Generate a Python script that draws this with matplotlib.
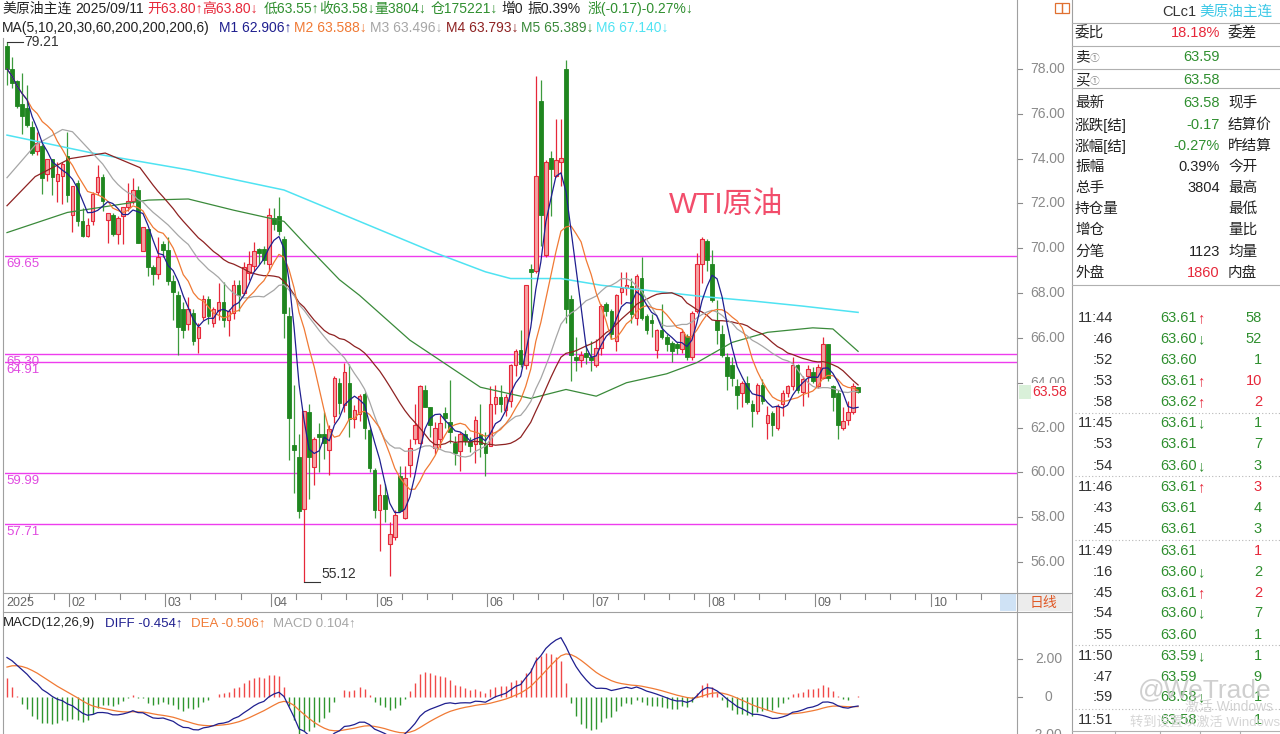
import numpy as np
import pandas as pd
import matplotlib
matplotlib.use('Agg')
import matplotlib.pyplot as plt
from matplotlib.lines import Line2D
from matplotlib.patches import Rectangle

# ---------------- data ----------------
opens = [
    79.02, 78.00, 77.45, 76.43, 76.28, 75.42, 74.33, 74.56, 73.30, 74.00, 73.00, 73.23, 74.10,
    71.50, 72.90, 71.20, 70.57, 71.20, 72.52, 73.20, 71.27, 71.50, 70.64, 71.43, 71.82, 72.13, 72.60, 69.86, 70.88, 69.16, 68.85, 70.17,
    69.94, 68.53, 67.90, 67.30, 66.60, 67.10, 66.00, 66.95, 67.75, 66.65, 67.20, 67.60, 66.80, 67.10, 68.37, 68.00, 68.90, 69.20, 69.95, 69.95, 69.30,
    71.35, 71.45, 70.40, 66.97, 61.20, 60.70, 58.36, 62.70, 60.24, 61.70, 61.70, 61.00, 62.50, 64.00, 63.00, 64.00, 62.40, 62.60, 63.50, 61.90, 60.10,
    58.30, 58.99, 56.80, 57.11, 59.85, 57.97, 60.32, 61.49, 61.33, 63.68, 62.90, 61.10, 61.49, 62.66, 62.27, 61.33, 60.94, 61.72, 61.41, 61.25, 61.72, 61.33,
    61.17, 63.05, 63.37, 62.80, 63.20, 64.78, 65.48, 64.78, 69.08, 69.00, 76.59, 69.71, 74.01, 73.23, 73.85, 78.00, 67.75, 65.17, 65.01, 65.33, 65.17,
    64.78, 65.56, 67.51, 67.20, 65.87, 68.06, 68.22, 68.30, 66.89, 68.69, 66.97, 66.81, 65.48, 66.34, 66.03, 65.79, 65.71, 65.52, 66.10, 65.17, 67.20, 69.31, 70.33,
    69.31, 66.81, 66.18, 65.17, 64.78, 63.84, 63.52, 63.99, 63.05, 62.74, 63.92, 62.19, 62.66, 61.96, 63.05, 63.52, 63.84, 64.78, 63.60, 64.30, 64.46,
    63.84, 64.23, 65.71, 63.84, 63.52, 61.96, 62.35, 62.70, 63.80]
highs = [
    79.21, 78.55, 77.50, 77.84, 77.30, 75.70, 75.18, 74.64, 74.00, 74.00, 73.85, 73.85, 75.18,
    72.76, 73.05, 71.80, 71.35, 72.50, 73.70, 73.30, 71.58, 71.58, 71.43, 71.82, 72.90, 73.15, 72.76, 70.96, 70.88, 69.24, 70.49, 70.33,
    70.49, 68.80, 68.10, 67.60, 67.83, 67.30, 66.65, 67.90, 67.85, 67.40, 68.45, 68.50, 67.30, 68.60, 68.60, 69.40, 69.90, 70.30, 70.00, 70.10, 71.80,
    71.80, 72.29, 70.55, 67.40, 63.90, 61.70, 62.74, 63.05, 61.60, 62.20, 62.70, 62.10, 64.30, 64.20, 64.90, 64.85, 63.00, 63.50, 63.60, 62.00, 60.20,
    59.46, 59.46, 57.80, 58.30, 60.30, 60.30, 61.50, 63.05, 63.90, 63.90, 62.90, 62.27, 62.58, 62.90, 64.10, 61.64, 61.80, 61.90, 61.60, 62.50, 63.05, 61.80,
    63.84, 63.90, 63.90, 63.50, 64.85, 65.50, 66.34, 68.38, 69.31, 77.69, 77.53, 73.93, 74.32, 75.76, 75.76, 78.39, 67.90, 66.03, 65.40, 65.71, 65.87,
    65.95, 67.51, 67.60, 67.28, 67.98, 68.92, 68.92, 68.69, 68.85, 69.63, 67.05, 67.05, 66.42, 67.51, 66.18, 65.87, 65.80, 66.42, 66.18, 67.20, 69.80, 70.49, 70.41,
    69.94, 67.67, 66.58, 65.33, 65.17, 64.15, 64.07, 64.31, 63.21, 63.99, 64.15, 62.97, 62.74, 63.05, 63.68, 63.92, 65.17, 64.85, 64.31, 64.78, 64.70,
    64.85, 66.03, 65.71, 63.92, 63.68, 62.90, 63.20, 64.00, 63.80]
lows = [
    77.30, 77.14, 76.28, 75.10, 75.40, 74.17, 74.17, 72.44, 73.00, 72.37, 72.05, 71.98, 72.05,
    70.72, 71.00, 70.49, 70.49, 71.04, 72.37, 71.66, 70.25, 70.57, 70.17, 70.17, 71.66, 71.97, 70.25, 69.86, 68.77, 68.38, 68.61, 69.63,
    68.38, 66.81, 65.25, 66.00, 66.34, 65.70, 65.33, 66.80, 66.60, 66.50, 66.80, 66.50, 66.10, 66.85, 67.20, 67.90, 68.60, 69.00, 69.30, 69.30, 69.00,
    70.80, 70.60, 66.00, 60.55, 59.10, 57.97, 55.12, 58.83, 59.45, 60.00, 60.60, 59.90, 62.20, 62.60, 62.70, 61.56, 62.00, 62.30, 61.50, 60.00, 57.97,
    56.48, 57.80, 55.39, 57.00, 58.28, 57.90, 59.80, 61.25, 61.25, 62.90, 61.60, 60.80, 61.10, 62.00, 61.33, 60.32, 60.08, 61.20, 60.90, 60.40, 60.70, 59.85,
    61.17, 62.60, 62.70, 62.50, 62.90, 64.30, 64.70, 64.60, 66.81, 68.90, 70.10, 69.60, 71.43, 73.20, 72.76, 66.65, 64.07, 64.54, 64.70, 64.85, 64.54,
    64.70, 65.25, 66.97, 65.95, 65.40, 67.51, 67.90, 66.65, 66.58, 66.81, 66.18, 66.03, 65.09, 65.95, 65.40, 64.93, 65.30, 65.33, 65.02, 65.02, 67.13, 68.45, 69.00,
    67.59, 65.71, 65.17, 63.68, 63.84, 62.82, 62.90, 63.05, 62.03, 62.60, 63.05, 61.49, 61.64, 61.90, 62.50, 63.37, 63.68, 63.52, 62.97, 63.37, 64.00,
    63.76, 64.15, 64.07, 62.74, 61.49, 61.90, 62.10, 62.60, 63.55]
closes = [
    78.00, 77.37, 76.36, 75.89, 75.50, 74.24, 74.72, 73.15, 74.00, 73.20, 73.30, 73.77, 72.37,
    72.76, 71.20, 70.57, 71.04, 72.44, 73.20, 72.13, 71.58, 70.64, 71.35, 71.82, 72.13, 72.60, 70.25, 70.96, 69.16, 68.85, 69.63, 69.94,
    68.53, 68.06, 66.50, 66.35, 67.30, 65.87, 66.50, 67.75, 66.97, 67.27, 67.60, 66.80, 67.20, 68.37, 67.90, 69.16, 69.30, 69.90, 69.80, 69.48, 71.50,
    71.10, 70.75, 67.10, 62.43, 61.00, 58.28, 62.74, 60.70, 61.50, 61.60, 61.30, 61.95, 64.20, 63.10, 64.50, 62.40, 62.80, 63.40, 62.00, 60.20, 58.30,
    59.00, 58.36, 57.27, 58.12, 58.28, 59.77, 61.10, 62.10, 63.84, 62.90, 62.10, 61.96, 62.20, 62.43, 61.80, 60.86, 61.72, 61.41, 61.17, 62.35, 61.25, 60.86,
    63.05, 63.37, 63.05, 63.37, 64.78, 65.40, 64.85, 68.38, 68.95, 73.23, 71.50, 73.85, 73.54, 73.93, 74.01, 67.28, 65.25, 65.01, 65.25, 65.17, 65.01,
    65.56, 67.44, 67.20, 66.18, 67.90, 68.22, 68.38, 67.05, 68.77, 66.89, 66.34, 66.65, 66.34, 66.03, 65.71, 65.40, 65.56, 66.25, 65.17, 67.13, 69.30, 70.41, 69.47,
    67.67, 66.34, 65.25, 64.31, 64.23, 63.45, 63.99, 63.13, 62.74, 63.92, 63.20, 62.58, 62.10, 62.97, 63.52, 63.84, 64.78, 63.68, 64.15, 64.60, 64.07,
    64.70, 65.71, 64.23, 63.37, 62.10, 62.30, 62.70, 63.84, 63.58]

month_pos = [0, 13, 32, 53, 74, 96, 117, 140, 161, 184]
month_labels = ['2025', '02', '03', '04', '05', '06', '07', '08', '09', '10']

levels = [69.65, 65.30, 64.91, 59.99, 57.71]

# moving-average values (lines whose window reaches before the visible data)
m3_early_x = [0, 5.6, 11, 13, 18]
m3_early_y = [73.15, 74.6, 75.3, 75.2, 74.0]
m4_early_x = [0, 5.6, 12.5, 19.5, 26.4]
m4_early_y = [71.9, 73.2, 74.0, 74.25, 73.6]
m5_x = [0, 12, 28, 36, 45, 55, 60, 66, 70, 80, 94, 104, 111, 117, 123, 131, 137, 144, 151, 160, 164, 169]
m5_y = [70.7, 71.6, 72.15, 72.2, 71.7, 71.2, 70.0, 68.6, 67.9, 65.9, 63.8, 63.3, 63.7, 63.4, 64.0, 64.4, 64.9, 65.8, 66.25, 66.45, 66.4, 65.4]
m6_x = [0, 18, 36, 55, 70, 85, 95, 100, 110, 118, 128, 138, 148, 158, 169]
m6_y = [75.05, 74.2, 73.5, 72.6, 71.2, 69.8, 68.95, 68.65, 68.65, 68.35, 68.1, 67.85, 67.65, 67.42, 67.14]

# MACD starting state (from the chart's first visible values)
ema12_seed, ema26_seed, dea_seed = 77.5, 75.3, 1.45

# ---------------- styling ----------------
W, H = 1280, 734
plt.rcParams['font.family'] = ['Liberation Sans', 'Noto Sans CJK SC', 'DejaVu Sans']
fig = plt.figure(figsize=(W / 100, H / 100), dpi=100)
fig.patch.set_facecolor('white')
REN = fig.canvas.get_renderer()

RED = '#e6283a'
RED_FACE = '#f4a3a3'
GRN = '#2f8f2f'
GRN_BODY = '#1f861f'
K = '#222222'
NAVY = '#1f1f8f'
ORANGE = '#f07a35'
GRAYL = '#a6a6a6'
DRED = '#8e2222'
MGREEN = '#3a8a3a'
CYAN = '#4fe3f2'
MAG = '#ee3cee'
AXG = '#8a8a8a'


def fx(x):
    return x / W


def fy(y):
    return 1 - y / H


def txt(x, y, s, c=K, size=10, ha='left', va='center', **kw):
    return fig.text(fx(x), fy(y), s, color=c, fontsize=size, ha=ha, va=va, **kw)


def seq(y, segs, x=2, size=10):
    for s, col, gap in segs:
        t = txt(x, y, s, c=col, size=size)
        x = t.get_window_extent(REN).x1 + gap


def hline(y, x0, x1, c='#a0a0a0', lw=0.8, ls='-'):
    fig.add_artist(Line2D([fx(x0), fx(x1)], [fy(y), fy(y)], color=c, lw=lw, ls=ls))


def vline(x, y0, y1, c='#a0a0a0', lw=0.8):
    fig.add_artist(Line2D([fx(x), fx(x)], [fy(y0), fy(y1)], color=c, lw=lw))


def rect(x0, y0, x1, y1, fc='none', ec='none', lw=0.8):
    fig.add_artist(Rectangle((fx(x0), fy(y1)), (x1 - x0) / W, (y1 - y0) / H,
                             transform=fig.transFigure, facecolor=fc, edgecolor=ec, lw=lw))


X0, X1 = 5, 1017
STEP = 5.036
XLIM = ((X0 - 7) / STEP, (X1 - 7) / STEP)

o = np.array(opens); h = np.array(highs); l = np.array(lows); c = np.array(closes)
n = len(c)
idx = np.arange(n)
up = c >= o

# ---------------- main price panel ----------------
ax = fig.add_axes([fx(X0), fy(593), (X1 - X0) / W, 593 / H])
ax.set_xlim(*XLIM)
ax.set_ylim(78 - (593 - 69) / 22.41, 78 + 69 / 22.41)
ax.axis('off')

for lv in levels:
    ax.axhline(lv, color=MAG, lw=1.0, zorder=1)
    ax.annotate(f'{lv:.2f}', xy=(XLIM[0], lv), xytext=(1, -1.5), textcoords='offset points',
                color='#e04ae0', fontsize=9.5, va='top', ha='left')

ax.vlines(idx[up], l[up], h[up], color=RED, lw=0.9, zorder=2)
ax.vlines(idx[~up], l[~up], h[~up], color='#3d9a3d', lw=0.9, zorder=2)
body = np.maximum(np.abs(c - o), 0.05)
bot = np.minimum(o, c)
ax.bar(idx[up], body[up], bottom=bot[up], width=0.72, color=RED_FACE, edgecolor=RED, lw=0.8, zorder=2)
ax.bar(idx[~up], body[~up], bottom=bot[~up], width=0.72, color=GRN_BODY, edgecolor=GRN_BODY, lw=0.6, zorder=2)

cs = pd.Series(c)
m1 = cs.rolling(5, min_periods=1).mean()
m2 = cs.rolling(10, min_periods=1).mean()
m3 = cs.rolling(20).mean()
m4 = cs.rolling(30).mean()
ax.plot(m6_x, m6_y, color=CYAN, lw=1.1, zorder=3)
ax.plot(m5_x, m5_y, color=MGREEN, lw=0.9, zorder=3)
ax.plot(m4_early_x + list(idx[29:]), m4_early_y + list(m4[29:]), color=DRED, lw=0.9, zorder=3)
ax.plot(m3_early_x + list(idx[19:]), m3_early_y + list(m3[19:]), color=GRAYL, lw=0.9, zorder=3)
ax.plot(idx, m2, color=ORANGE, lw=0.9, zorder=3)
ax.plot(idx, m1, color=NAVY, lw=0.9, zorder=3)

imax = int(np.argmax(h)); imin = int(np.argmin(l))
ax.plot([imax, imax + 3.2], [h[imax], h[imax]], color='#333333', lw=0.8)
ax.text(imax + 3.5, h[imax], f'{h[imax]:.2f}', color='#333333', fontsize=10, va='center')
ax.plot([imin, imin + 3.2], [l[imin], l[imin]], color='#333333', lw=0.8)
ax.text(imin + 3.5, l[imin] + 0.05, f'{l[imin]:.2f}', color='#333333', fontsize=10, va='bottom')

ax.text(142.8, 71.95, 'WTI原油', color='#f24d6b', fontsize=21.5, ha='center', va='center')

# price axis labels
ytr = ax.get_yaxis_transform()
for p in range(56, 80, 2):
    ax.text(1.0128, p, f'{p:.2f}', transform=ytr, color=AXG, fontsize=10, va='center', clip_on=False)
    ax.plot([1.0, 1.005], [p, p], transform=ytr, color=AXG, lw=0.8, clip_on=False)
ax.add_patch(Rectangle((1.002, c[-1] - 0.3), 0.013, 0.6, transform=ytr, facecolor='#d9f0d9',
                       edgecolor='none', clip_on=False))
ax.text(1.0155, c[-1], f'{c[-1]:.2f}', transform=ytr, color=RED, fontsize=10, va='center', clip_on=False,
        bbox=dict(facecolor='white', edgecolor='none', pad=1.2))

# ---------------- time strip ----------------
axt = fig.add_axes([fx(X0), fy(611), (X1 - X0) / W, 18 / H])
axt.set_xlim(*XLIM); axt.set_ylim(0, 1); axt.axis('off')
for k, (mp, lab) in enumerate(zip(month_pos, month_labels)):
    if k > 0:
        axt.plot([mp - 0.6, mp - 0.6], [0.3, 1.0], color=AXG, lw=0.8)
    axt.text(mp - 0.1, 0.45, lab, color='#666666', fontsize=9, va='center', ha='left')
    nxt = month_pos[k + 1] if k + 1 < len(month_pos) else mp + 22
    for t in range(mp + 5, nxt - 2, 5):
        if t > 2:
            axt.plot([t - 0.6, t - 0.6], [0.65, 1.0], color=AXG, lw=0.8)

# ---------------- MACD panel ----------------
e12, e26, d = ema12_seed, ema26_seed, dea_seed
diff = np.empty(n); dea = np.empty(n)
for i, cl in enumerate(c):
    e12 += (cl - e12) * 2 / 13
    e26 += (cl - e26) * 2 / 27
    diff[i] = e12 - e26
    d += (diff[i] - d) * 2 / 10
    dea[i] = d
hist = 2 * (diff - dea)

axm = fig.add_axes([fx(X0), fy(734), (X1 - X0) / W, (734 - 612) / H])
axm.set_xlim(*XLIM)
axm.set_ylim(-(734 - 697) / 19, (697 - 612) / 19)
axm.axis('off')
axm.vlines(idx, 0, hist, colors=np.where(hist >= 0, '#f04848', '#2e962e'), lw=1.0)
axm.plot(idx, dea, color=ORANGE, lw=0.9)
axm.plot(idx, diff, color=NAVY, lw=0.9)
mtr = axm.get_yaxis_transform()
for val, lab, xo in [(2, '2.00', 1.018), (0, '0', 1.027), (-2, '-2.00', 1.013)]:
    axm.text(xo, val, lab, transform=mtr, color=AXG, fontsize=10, va='center', clip_on=False)
    axm.plot([1.0, 1.005], [val, val], transform=mtr, color=AXG, lw=0.8, clip_on=False)

# ---------------- frame lines ----------------
vline(3, 38, 734)
vline(1017, 0, 734)
vline(1072, 0, 734)
hline(593, 3, 1072)
hline(611.5, 3, 1072)
rect(1000, 594, 1016, 611, fc='#cfe2f5')
rect(1018, 594, 1071, 611, fc='#ececec')
txt(1030, 603, '日线', c='#e05a28', size=10)
rect(1055, 3, 1062, 13, ec='#e07030', lw=0.9)
rect(1062, 3, 1069, 13, ec='#e07030', lw=0.9)

# ---------------- header texts ----------------
seq(9, [('美原油主连', K, 4), ('2025/09/11', K, 3), ('开63.80↑', RED, 0), ('高63.80↓', RED, 5),
        ('低63.55↑', GRN, 0), ('收63.58↓', GRN, 0), ('量3804↓', GRN, 4), ('仓175221↓', GRN, 4),
        ('增0', K, 4), ('振0.39%', K, 7), ('涨(-0.17)-0.27%↓', GRN, 0)], size=10)
seq(28, [('MA(5,10,20,30,60,200,200,200,6)', K, 9), ('M1 62.906↑', NAVY, 3), ('M2 63.588↓', ORANGE, 3),
         ('M3 63.496↓', GRAYL, 3), ('M4 63.793↓', DRED, 3), ('M5 65.389↓', MGREEN, 3),
         ('M6 67.140↓', CYAN, 0)], size=10)
seq(623, [('MACD(12,26,9)', K, 10), ('DIFF -0.454↑', NAVY, 8), ('DEA -0.506↑', ORANGE, 8),
          ('MACD 0.104↑', GRAYL, 0)], x=3, size=9.5)

# ---------------- right quote panel ----------------
RS = 10.5
txt(1162, 12, 'CLc1', c='#333333', size=RS)
txt(1199, 12, '美原油主连', c='#3cc8e6', size=RS)
for yy in [23, 46, 69, 88, 285]:
    hline(yy, 1072, 1280, c='#b0b0b0')
rows = [(33, '委比', '18.18%', RED, '委差'), (57, '卖', '63.59', GRN, ''), (80, '买', '63.58', GRN, ''),
        (103, '最新', '63.58', GRN, '现手'), (125, '涨跌[结]', '-0.17', GRN, '结算价'),
        (146, '涨幅[结]', '-0.27%', GRN, '昨结算'), (167, '振幅', '0.39%', K, '今开'),
        (188, '总手', '3804', K, '最高'), (209, '持仓量', '', K, '最低'), (230, '增仓', '', K, '量比'),
        (252, '分笔', '1123', K, '均量'), (273, '外盘', '1860', RED, '内盘')]
for yy, a, v, vc, b in rows:
    txt(1075, yy, a, c='#222222', size=RS)
    if a in ('卖', '买'):
        txt(1090, yy + 1, '①', c='#888888', size=7)
    if v:
        txt(1220, yy, v, c=vc, size=RS, ha='right')
    if b:
        txt(1228, yy, b, c='#222222', size=RS)

ticks = [('11:44', '63.61', '↑', '58', GRN), (':46', '63.60', '↓', '52', GRN), (':52', '63.60', '', '1', GRN),
         (':53', '63.61', '↑', '10', RED), (':58', '63.62', '↑', '2', RED),
         ('11:45', '63.61', '↓', '1', GRN), (':53', '63.61', '', '7', GRN), (':54', '63.60', '↓', '3', GRN),
         ('11:46', '63.61', '↑', '3', RED), (':43', '63.61', '', '4', GRN), (':45', '63.61', '', '3', GRN),
         ('11:49', '63.61', '', '1', RED), (':16', '63.60', '↓', '2', GRN), (':45', '63.61', '↑', '2', RED),
         (':54', '63.60', '↓', '7', GRN), (':55', '63.60', '', '1', GRN),
         ('11:50', '63.59', '↓', '1', GRN), (':47', '63.59', '', '9', GRN), (':59', '63.58', '↓', '1', GRN),
         ('11:51', '63.58', '', '1', GRN)]
row_y = [318, 339, 360, 381, 402, 423, 444, 466, 487, 508, 529, 551, 572, 593, 613, 635, 656, 677, 697, 720]
for (t, p, a, v, vc), yy in zip(ticks, row_y):
    txt(1113, yy, t, c='#333333', size=10.5, ha='right')
    txt(1160, yy, p, c=GRN, size=10.5)
    if a:
        txt(1197, yy, a, c=RED if a == '↑' else GRN, size=10.5)
    txt(1262, yy, v, c=vc, size=10.5, ha='right')
for yy in [413, 476, 540, 645, 709]:
    hline(yy, 1075, 1280, c='#b8b8b8', lw=0.8, ls=(0, (1, 2)))
hline(731, 1072, 1280, c='#b0b0b0')
for xx in [1115, 1160, 1200, 1240]:
    vline(xx, 731, 734, c='#b0b0b0')

# watermark (semi-transparent, as in the screenshot)
txt(1205, 690, '@WeTrade', c='#c4c4c4', size=19, ha='center', alpha=0.8)
txt(1185, 707, '激活 Windows', c='#d2d2d2', size=10)
txt(1130, 722, '转到设置以激活 Windows', c='#d6d6d6', size=9.5)

fig.savefig('out.png', dpi=100, facecolor='white')
